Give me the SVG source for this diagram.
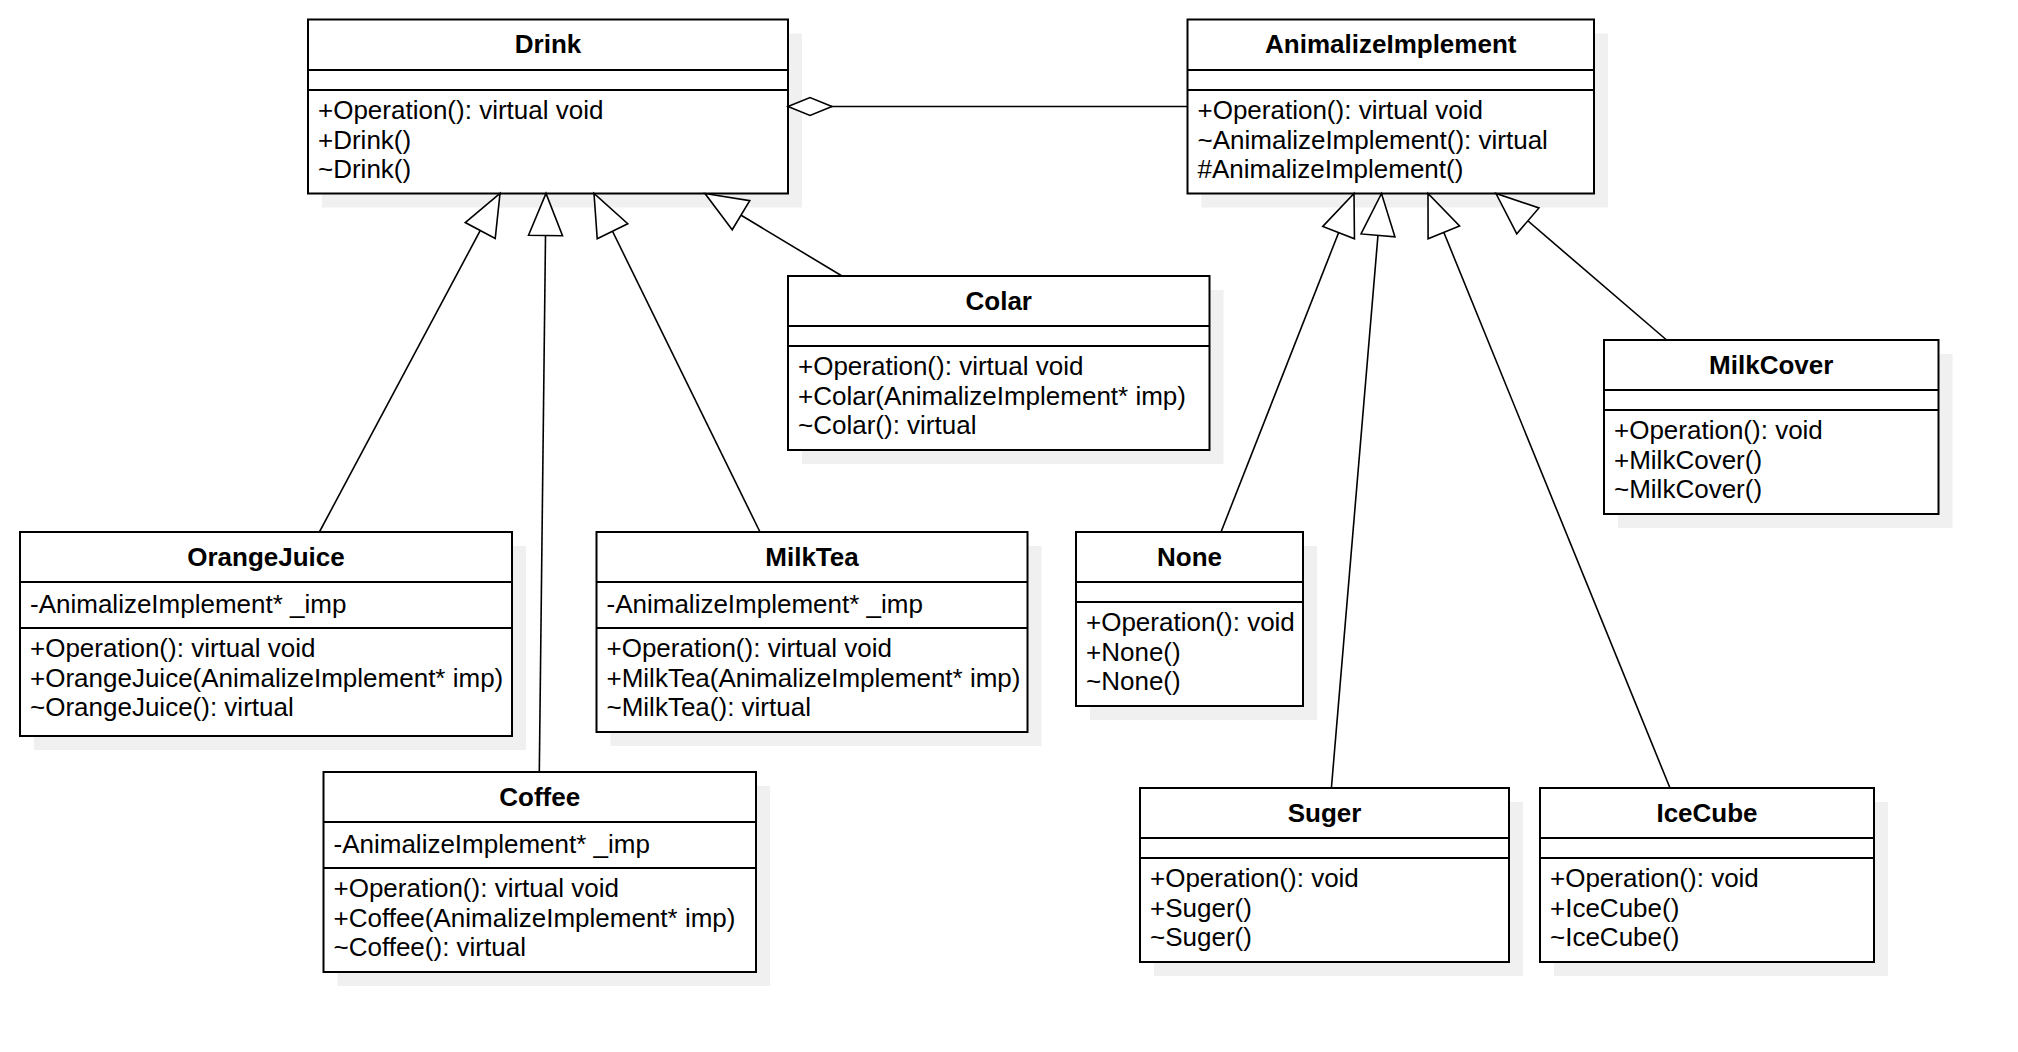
<svg xmlns="http://www.w3.org/2000/svg" width="2018" height="1052" viewBox="0 0 2018 1052">
<defs>
<style>
.bg{fill:#ffffff}
.sh{fill:#f0f0f0}
.box{fill:#ffffff;stroke:#000000;stroke-width:2}
.div{stroke:#000000;stroke-width:2}
.t{font-family:"Liberation Sans",Arial,Helvetica,sans-serif;font-size:26px;fill:#000000}
.title{font-weight:bold;text-anchor:middle}
.edge{fill:none;stroke:#000000;stroke-width:1.6}
.inh{marker-end:url(#hollowTri)}
.agg{marker-start:url(#hollowDiamond)}
</style>
<marker id="hollowTri" markerUnits="userSpaceOnUse" viewBox="-2 -2 46 38" markerWidth="46" markerHeight="38" refX="42" refY="17" orient="auto" overflow="visible">
<path d="M0,0 L42,17 L0,34 Z" fill="#ffffff" stroke="#000000" stroke-width="1.6" stroke-linejoin="miter"/>
</marker>
<marker id="hollowDiamond" markerUnits="userSpaceOnUse" viewBox="-2 -2 48 22" markerWidth="48" markerHeight="22" refX="0" refY="9" orient="auto" overflow="visible">
<path d="M0,9 L22,0 L44,9 L22,18 Z" fill="#ffffff" stroke="#000000" stroke-width="1.6"/>
</marker>
</defs>
<rect class="bg" x="0" y="0" width="2018" height="1052"/>

<g id="Drink">
<rect class="sh" x="322" y="33.5" width="480" height="174"/>
<rect class="box" x="308" y="19.5" width="480" height="174"/>
<line class="div" x1="308" y1="70" x2="788" y2="70"/>
<line class="div" x1="308" y1="90" x2="788" y2="90"/>
<text class="t title" x="548" y="53">Drink</text>
<text class="t" x="318" y="119">+Operation(): virtual void</text>
<text class="t" x="318" y="148.5">+Drink()</text>
<text class="t" x="318" y="178">~Drink()</text>
</g>

<g id="AnimalizeImplement">
<rect class="sh" x="1201.5" y="33.5" width="406.5" height="174"/>
<rect class="box" x="1187.5" y="19.5" width="406.5" height="174"/>
<line class="div" x1="1187.5" y1="70" x2="1594" y2="70"/>
<line class="div" x1="1187.5" y1="90" x2="1594" y2="90"/>
<text class="t title" x="1390.75" y="53">AnimalizeImplement</text>
<text class="t" x="1197.5" y="119">+Operation(): virtual void</text>
<text class="t" x="1197.5" y="148.5">~AnimalizeImplement(): virtual</text>
<text class="t" x="1197.5" y="178">#AnimalizeImplement()</text>
</g>

<g id="Colar">
<rect class="sh" x="802" y="290" width="421.5" height="174"/>
<rect class="box" x="788" y="276" width="421.5" height="174"/>
<line class="div" x1="788" y1="326" x2="1209.5" y2="326"/>
<line class="div" x1="788" y1="346" x2="1209.5" y2="346"/>
<text class="t title" x="998.75" y="309.5">Colar</text>
<text class="t" x="798" y="375">+Operation(): virtual void</text>
<text class="t" x="798" y="404.5">+Colar(AnimalizeImplement* imp)</text>
<text class="t" x="798" y="434">~Colar(): virtual</text>
</g>

<g id="OrangeJuice">
<rect class="sh" x="34" y="546" width="492" height="204"/>
<rect class="box" x="20" y="532" width="492" height="204"/>
<line class="div" x1="20" y1="582" x2="512" y2="582"/>
<line class="div" x1="20" y1="628" x2="512" y2="628"/>
<text class="t title" x="266" y="565.5">OrangeJuice</text>
<text class="t" x="30" y="612.5">-AnimalizeImplement* _imp</text>
<text class="t" x="30" y="657">+Operation(): virtual void</text>
<text class="t" x="30" y="686.5">+OrangeJuice(AnimalizeImplement* imp)</text>
<text class="t" x="30" y="716">~OrangeJuice(): virtual</text>
</g>

<g id="MilkTea">
<rect class="sh" x="610.5" y="546" width="431" height="200"/>
<rect class="box" x="596.5" y="532" width="431" height="200"/>
<line class="div" x1="596.5" y1="582" x2="1027.5" y2="582"/>
<line class="div" x1="596.5" y1="628" x2="1027.5" y2="628"/>
<text class="t title" x="812" y="565.5">MilkTea</text>
<text class="t" x="606.5" y="612.5">-AnimalizeImplement* _imp</text>
<text class="t" x="606.5" y="657">+Operation(): virtual void</text>
<text class="t" x="606.5" y="686.5">+MilkTea(AnimalizeImplement* imp)</text>
<text class="t" x="606.5" y="716">~MilkTea(): virtual</text>
</g>

<g id="Coffee">
<rect class="sh" x="337.5" y="786" width="432.5" height="200"/>
<rect class="box" x="323.5" y="772" width="432.5" height="200"/>
<line class="div" x1="323.5" y1="822" x2="756" y2="822"/>
<line class="div" x1="323.5" y1="868" x2="756" y2="868"/>
<text class="t title" x="539.75" y="805.5">Coffee</text>
<text class="t" x="333.5" y="852.5">-AnimalizeImplement* _imp</text>
<text class="t" x="333.5" y="897">+Operation(): virtual void</text>
<text class="t" x="333.5" y="926.5">+Coffee(AnimalizeImplement* imp)</text>
<text class="t" x="333.5" y="956">~Coffee(): virtual</text>
</g>

<g id="None">
<rect class="sh" x="1090" y="546" width="227" height="174"/>
<rect class="box" x="1076" y="532" width="227" height="174"/>
<line class="div" x1="1076" y1="582" x2="1303" y2="582"/>
<line class="div" x1="1076" y1="602" x2="1303" y2="602"/>
<text class="t title" x="1189.5" y="565.5">None</text>
<text class="t" x="1086" y="631">+Operation(): void</text>
<text class="t" x="1086" y="660.5">+None()</text>
<text class="t" x="1086" y="690">~None()</text>
</g>

<g id="MilkCover">
<rect class="sh" x="1618" y="354" width="334.5" height="174"/>
<rect class="box" x="1604" y="340" width="334.5" height="174"/>
<line class="div" x1="1604" y1="390" x2="1938.5" y2="390"/>
<line class="div" x1="1604" y1="410" x2="1938.5" y2="410"/>
<text class="t title" x="1771.25" y="373.5">MilkCover</text>
<text class="t" x="1614" y="439">+Operation(): void</text>
<text class="t" x="1614" y="468.5">+MilkCover()</text>
<text class="t" x="1614" y="498">~MilkCover()</text>
</g>

<g id="Suger">
<rect class="sh" x="1154" y="802" width="369" height="174"/>
<rect class="box" x="1140" y="788" width="369" height="174"/>
<line class="div" x1="1140" y1="838" x2="1509" y2="838"/>
<line class="div" x1="1140" y1="858" x2="1509" y2="858"/>
<text class="t title" x="1324.5" y="821.5">Suger</text>
<text class="t" x="1150" y="887">+Operation(): void</text>
<text class="t" x="1150" y="916.5">+Suger()</text>
<text class="t" x="1150" y="946">~Suger()</text>
</g>

<g id="IceCube">
<rect class="sh" x="1554" y="802" width="334" height="174"/>
<rect class="box" x="1540" y="788" width="334" height="174"/>
<line class="div" x1="1540" y1="838" x2="1874" y2="838"/>
<line class="div" x1="1540" y1="858" x2="1874" y2="858"/>
<text class="t title" x="1707" y="821.5">IceCube</text>
<text class="t" x="1550" y="887">+Operation(): void</text>
<text class="t" x="1550" y="916.5">+IceCube()</text>
<text class="t" x="1550" y="946">~IceCube()</text>
</g>

<g id="connectors">
<path class="edge agg" d="M788,106.5 L1187.5,106.5"/>
<path class="edge inh" d="M319.4,532 L500,193.5"/>
<path class="edge inh" d="M539.3,772 L546,193.5"/>
<path class="edge inh" d="M760,532 L594,193.5"/>
<path class="edge inh" d="M842,276 L705,193.5"/>
<path class="edge inh" d="M1221,532 L1354,193.5"/>
<path class="edge inh" d="M1331.4,788 L1381.5,193.5"/>
<path class="edge inh" d="M1670,788 L1428,193.5"/>
<path class="edge inh" d="M1666.6,340 L1496,193.5"/>
</g>
</svg>
